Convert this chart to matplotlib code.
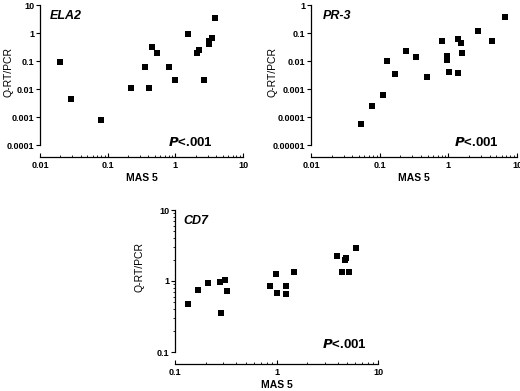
import matplotlib.pyplot as plt
from matplotlib.ticker import LogLocator, NullFormatter, FixedLocator, FixedFormatter

plt.rcParams['font.family'] = ['Liberation Sans', 'DejaVu Sans']
plt.rcParams['font.weight'] = 'bold'

# ELA2
ela2_mas5 = [0.02, 0.029, 0.079, 0.225, 0.36, 0.41, 0.45, 0.53, 0.81, 0.98,
             1.55, 2.1, 2.22, 2.66, 3.12, 3.15, 3.53, 3.9]
ela2_qpcr = [0.09, 0.0043, 0.00078, 0.0105, 0.062, 0.0105, 0.31, 0.2, 0.062, 0.021,
             0.95, 0.2, 0.24, 0.021, 0.42, 0.5, 0.64, 3.3]

# PR-3
pr3_mas5 = [0.054, 0.077, 0.113, 0.126, 0.168, 0.24, 0.336, 0.49, 0.82, 0.955,
            0.965, 1.01, 1.36, 1.39, 1.53, 1.56, 2.69, 4.3, 6.6]
pr3_qpcr = [0.000056, 0.000245, 0.00062, 0.01, 0.0033, 0.0236, 0.014, 0.00265, 0.05, 0.015,
            0.011, 0.0039, 0.06, 0.0037, 0.043, 0.019, 0.122, 0.052, 0.36]

# CD7
cd7_mas5 = [0.133, 0.167, 0.211, 0.275, 0.283, 0.313, 0.327, 0.87, 0.98, 1.0,
            1.25, 1.24, 1.48, 3.92, 4.39, 4.7, 4.88, 5.19, 6.03]
cd7_qpcr = [0.47, 0.75, 0.95, 0.96, 0.36, 1.04, 0.73, 0.86, 1.24, 0.67,
            0.845, 0.65, 1.36, 2.26, 1.33, 2.0, 2.08, 1.33, 2.9]

W, H = 520, 391


def make_axes(fig, left, right, top, bottom):
    return fig.add_axes([left / W, (H - bottom) / H, (right - left) / W, (bottom - top) / H])


def setup(ax, x, y, xlim, ylim, yticks, ylabels, xticks, xlabels, title, ptxt, title_pos, p_pos,
          ylab_pos, yminor=False):
    ax.scatter(x, y, marker='s', s=13, color='black', linewidths=0, clip_on=False)
    ax.set_xscale('log')
    ax.set_yscale('log')
    ax.set_xlim(*xlim)
    ax.set_ylim(*ylim)
    for s in ['top', 'right']:
        ax.spines[s].set_visible(False)
    ax.spines['bottom'].set_position(('outward', 8.5))
    ax.spines['left'].set_linewidth(0.9)
    ax.spines['bottom'].set_linewidth(0.9)
    ax.patch.set_visible(False)

    ax.yaxis.set_major_locator(FixedLocator(yticks))
    ax.yaxis.set_major_formatter(FixedFormatter(ylabels))
    if yminor:
        ax.yaxis.set_minor_locator(LogLocator(base=10, subs=range(2, 10)))
    else:
        ax.yaxis.set_minor_locator(FixedLocator([]))
    ax.yaxis.set_minor_formatter(NullFormatter())
    ax.xaxis.set_major_locator(FixedLocator(xticks))
    ax.xaxis.set_major_formatter(FixedFormatter(xlabels))
    ax.xaxis.set_minor_locator(LogLocator(base=10, subs=range(2, 10)))
    ax.xaxis.set_minor_formatter(NullFormatter())

    ax.tick_params(axis='y', which='major', direction='out', length=3, width=0.8,
                   labelsize=6.5, pad=1)
    ax.tick_params(axis='y', which='minor', direction='out', length=1.5, width=0.6)
    ax.tick_params(axis='x', which='major', direction='in', length=3, width=0.8,
                   labelsize=6.5, pad=3)
    ax.tick_params(axis='x', which='minor', direction='in', length=1.8, width=0.6)

    ax.set_xlabel('MAS 5', fontsize=7.5, fontweight='bold', labelpad=2)
    ax.set_ylabel('Q-RT/PCR', fontsize=7.5, fontweight='normal')
    ax.yaxis.set_label_coords(*ylab_pos)

    ax.text(title_pos[0], title_pos[1], title, transform=ax.transAxes, fontsize=9,
            fontweight='bold', style='italic', ha='left', va='top')
    ax.text(p_pos[0], p_pos[1], ptxt, transform=ax.transAxes, fontsize=9.5,
            fontweight='bold', ha='right', va='baseline')


def main():
    fig = plt.figure(figsize=(5.2, 3.91), dpi=100)

    ax1 = make_axes(fig, 40, 243, 5, 145)
    setup(ax1, ela2_mas5, ela2_qpcr, (0.01, 10), (0.0001, 10),
          [0.0001, 0.001, 0.01, 0.1, 1, 10], ['0.0001', '0.001', '0.01', '0.1', '1', '10'],
          [0.01, 0.1, 1, 10], ['0.01', '0.1', '1', '10'],
          'ELA2', r'$\bf\it{P}$<.001', (0.05, 0.965), (0.852, -0.005), (-0.13, 0.52))

    ax2 = make_axes(fig, 311, 517, 5, 145)
    setup(ax2, pr3_mas5, pr3_qpcr, (0.01, 10), (0.00001, 1),
          [0.00001, 0.0001, 0.001, 0.01, 0.1, 1],
          ['0.00001', '0.0001', '0.001', '0.01', '0.1', '1'],
          [0.01, 0.1, 1, 10], ['0.01', '0.1', '1', '10'],
          'PR-3', r'$\bf\it{P}$<.001', (0.055, 0.965), (0.913, -0.005), (-0.165, 0.52))

    ax3 = make_axes(fig, 175, 378, 210, 352)
    setup(ax3, cd7_mas5, cd7_qpcr, (0.1, 10), (0.1, 10),
          [0.1, 1, 10], ['0.1', '1', '10'],
          [0.1, 1, 10], ['0.1', '1', '10'],
          'CD7', r'$\bf\it{P}$<.001', (0.04, 0.965), (0.946, 0.03), (-0.148, 0.6), yminor=True)

    fig.savefig('out.png', dpi=100)


if __name__ == '__main__':
    main()
